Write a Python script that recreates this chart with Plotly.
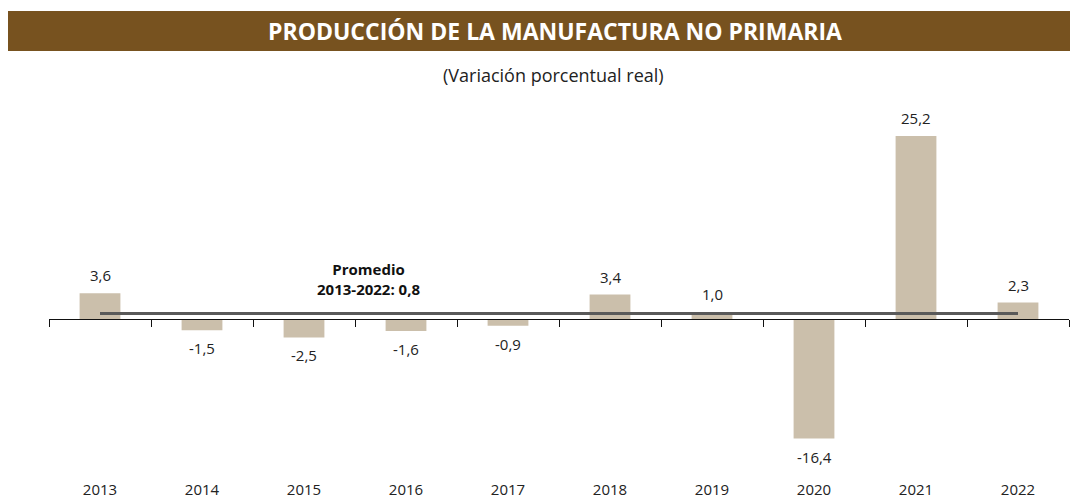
import plotly.graph_objects as go

years = ["2013", "2014", "2015", "2016", "2017", "2018", "2019", "2020", "2021", "2022"]
values = [3.6, -1.5, -2.5, -1.6, -0.9, 3.4, 1.0, -16.4, 25.2, 2.3]
average = 0.8
title_text = "PRODUCCIÓN DE LA MANUFACTURA NO PRIMARIA"
subtitle_text = "(Variación porcentual real)"
avg_text = "<b>Promedio<br>2013-2022: 0,8</b>"

# page body has an 8px margin: the figure starts at (8, 8) in the window
O = 8
W, H = 1078 - O, 500 - O
# plot area in window pixels: x 49..1069, y 110..465
PX0, PX1, PY0, PY1 = 49, 1069, 110, 465
L, R, T, B = PX0 - O, (1078 - PX1), PY0 - O, (500 - PY1)
ymin, ymax = -20.04, 28.79

def fmt(v):
    return f"{v:.1f}".replace(".", ",")

def px_x(p):
    return (p - PX0) / (PX1 - PX0)

def px_y(p):
    return (PY1 - p) / (PY1 - PY0)

xs = list(range(len(years)))
zero_pos = (0 - ymin) / (ymax - ymin)

fig = go.Figure()
fig.add_trace(go.Bar(x=xs, y=values, width=0.4, marker=dict(color="#cbbfab", line=dict(width=0)),
                     hoverinfo="skip", showlegend=False))
fig.add_trace(go.Scatter(x=[xs[0], xs[-1]], y=[average, average], mode="lines",
                         line=dict(color="#595959", width=3), hoverinfo="skip", showlegend=False))
# dummy trace for the zero-line axis
fig.add_trace(go.Scatter(x=[xs[0]], y=[0], xaxis="x2", mode="markers", marker=dict(opacity=0),
                         hoverinfo="skip", showlegend=False))

for x, v in zip(xs, values):
    fig.add_annotation(x=x, y=v, text=fmt(v), showarrow=False, yanchor="middle",
                       yshift=18 if v >= 0 else -18,
                       font=dict(family="Open Sans", size=15, color="#222222"))

fig.add_annotation(x=px_x(368), y=px_y(279), xref="paper", yref="paper", text=avg_text,
                   showarrow=False, align="center", xanchor="center", yanchor="middle",
                   font=dict(family="Open Sans", size=15, color="#111111"))

# header band
fig.add_shape(type="rect", xref="paper", yref="paper",
              x0=px_x(8), x1=px_x(1078), y0=px_y(51), y1=px_y(11),
              fillcolor="#77521f", line=dict(width=0), layer="below")
fig.add_annotation(x=px_x(555), y=px_y(31), xref="paper", yref="paper",
                   text=f"<b>{title_text}</b>", showarrow=False, xanchor="center", yanchor="middle",
                   font=dict(family="Open Sans", size=23, color="white"))
fig.add_annotation(x=px_x(553), y=px_y(75), xref="paper", yref="paper",
                   text=subtitle_text, showarrow=False, xanchor="center", yanchor="middle",
                   font=dict(family="Open Sans", size=18, color="#222222"))

fig.update_layout(
    width=W, height=H,
    margin=dict(l=L, r=R, t=T, b=B, pad=0, autoexpand=False),
    plot_bgcolor="white", paper_bgcolor="white",
    bargap=0.6,
    xaxis=dict(range=[-0.5, len(years) - 0.5], tickmode="array", tickvals=xs, ticktext=years,
               showline=False, showgrid=False, zeroline=False, ticks="outside",
               ticklen=11, tickcolor="rgba(0,0,0,0)", automargin=False,
               tickfont=dict(family="Open Sans", size=15, color="#222222")),
    xaxis2=dict(range=[-0.5, len(years) - 0.5], overlaying="x", anchor="free", position=zero_pos,
                side="bottom", showline=True, linecolor="#111111", linewidth=1, automargin=False,
                tickmode="array", tickvals=[i - 0.5 for i in range(len(years) + 1)],
                ticks="outside", ticklen=7, tickcolor="#111111", tickwidth=1,
                showticklabels=False, showgrid=False, zeroline=False),
    yaxis=dict(range=[ymin, ymax], visible=False, showgrid=False, zeroline=False, automargin=False),
)

fig.write_html("out.html")
